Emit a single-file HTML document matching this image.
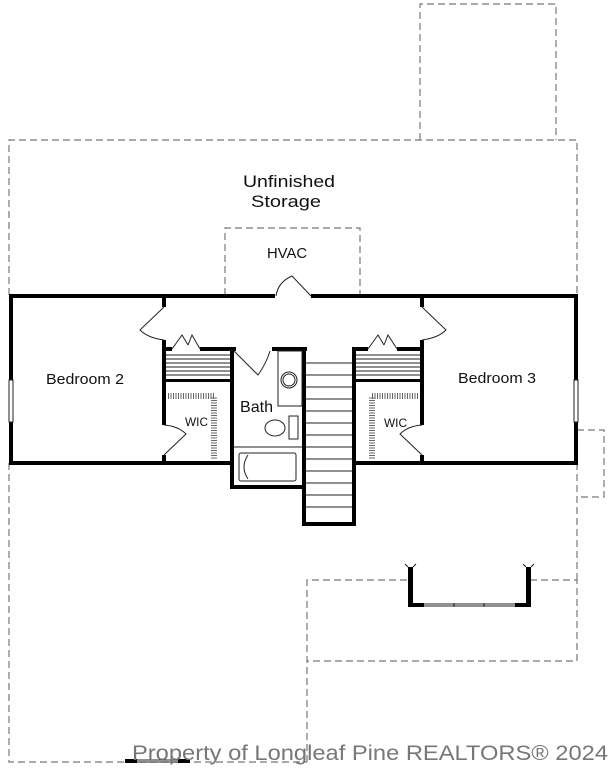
<!DOCTYPE html>
<html><head><meta charset="utf-8"><style>
html,body{margin:0;padding:0;background:#fff;}
svg{display:block;}
text{font-family:"Liberation Sans",sans-serif;fill:#111;}
</style></head><body>
<svg width="615" height="768" viewBox="0 0 615 768" xmlns="http://www.w3.org/2000/svg">
<g fill="none" stroke="#777" stroke-width="1.2" stroke-dasharray="7,4">
  <path d="M420,140 V4 H556 V140"/>
  <path d="M9,295 V140 H577 V295"/>
  <path d="M9,463 V762 H307"/>
  <path d="M577,463 V580"/>
  <path d="M577,430 H604 V497 H577"/>
  <path d="M225,295 V228 H360 V295"/>
  <path d="M307,762 V580 H409"/>
  <path d="M530,580 H577 V661 H307"/>
</g>
<g fill="#000" stroke="none">
  <rect x="9" y="294" width="266" height="4"/>
  <rect x="311" y="294" width="267" height="4"/>
  <rect x="9" y="294" width="4" height="171"/>
  <rect x="574" y="294" width="4" height="171"/>
  <rect x="9" y="461" width="225" height="4"/>
  <rect x="354" y="461" width="224" height="4"/>
  <rect x="162" y="294" width="4" height="13"/>
  <rect x="162" y="340" width="4" height="85"/>
  <rect x="162" y="455" width="4" height="8"/>
  <rect x="162" y="347" width="10" height="4"/>
  <rect x="200" y="347" width="36" height="4"/>
  <rect x="162" y="379" width="72" height="3"/>
  <rect x="230" y="347" width="4" height="142"/>
  <rect x="230" y="485" width="76" height="4"/>
  <rect x="272" y="347" width="35" height="4"/>
  <rect x="302" y="347" width="4" height="179"/>
  <rect x="352" y="347" width="4" height="179"/>
  <rect x="302" y="522" width="54" height="4"/>
  <rect x="420" y="294" width="4" height="13"/>
  <rect x="420" y="340" width="4" height="85"/>
  <rect x="420" y="455" width="4" height="8"/>
  <rect x="352" y="347" width="16" height="4"/>
  <rect x="397" y="347" width="27" height="4"/>
  <rect x="352" y="379" width="72" height="3"/>
  <rect x="408" y="567" width="5" height="40"/>
  <rect x="526" y="567" width="5" height="40"/>
  <rect x="408" y="603" width="16" height="4"/>
  <rect x="515" y="603" width="16" height="4"/>
  <rect x="125" y="759" width="12" height="4"/>
  <rect x="178" y="759" width="12" height="4"/>
</g>
<g fill="none" stroke="#222" stroke-width="1">
  <rect x="9" y="380" width="4" height="42" fill="#fff"/>
  <rect x="574" y="380" width="4" height="42" fill="#fff"/>
  <path d="M424,604 H515 M424,606 H515 M454,603 V607 M484,603 V607"/>
  <path d="M137,760 H178 M137,762 H178"/>
  <path d="M408,567 l-3,-3 M413,567 l3,-3 M526,567 l-3,-3 M531,567 l3,-3"/>
  <path d="M311,296 L292,276 Q278,282 276,296"/>
  <path d="M164,307 L140,330 Q148,338 164,340"/>
  <path d="M422,307 L446,330 Q438,338 422,340"/>
  <path d="M164,455 L186,434 Q178,426 164,425"/>
  <path d="M422,455 L400,434 Q408,426 422,425"/>
  <path d="M172,349 L182,335 L188,345 M200,349 L192,335 L188,345"/>
  <path d="M368,349 L378,335 L384,345 M397,349 L388,335 L384,345"/>
  <path d="M234,351 L258,375 Q266,364 270,351"/>
  <path d="M166,355 H230 M166,359 H230 M166,363 H230 M166,367 H230 M166,371 H230 M166,375 H230"/>
  <path d="M356,355 H420 M356,359 H420 M356,363 H420 M356,367 H420 M356,371 H420 M356,375 H420"/>
  <rect x="278" y="351" width="24" height="55"/>
  <circle cx="289" cy="380" r="8"/><circle cx="289" cy="380" r="6"/>
  <ellipse cx="275" cy="428" rx="10" ry="8"/>
  <rect x="289" y="416" width="9" height="23"/>
  <path d="M234,447 H302"/>
  <rect x="239" y="453" width="57" height="28" rx="2"/>
  <path d="M248,455 Q240,467 248,479"/>
  <path d="M306,363 H352 M306,375 H352 M306,387 H352 M306,399 H352 M306,411 H352 M306,423 H352 M306,435 H352 M306,447 H352 M306,459 H352 M306,471 H352 M306,483 H352 M306,495 H352 M306,507 H352"/>
</g>
<g stroke="#666" stroke-width="6" fill="none" stroke-dasharray="1,1.5">
  <path d="M168,396 H214 V460"/>
  <path d="M418,396 H372 V460"/>
</g>
<text x="243" y="187" font-size="17" textLength="92" lengthAdjust="spacingAndGlyphs">Unfinished</text>
<text x="251" y="207" font-size="17" textLength="70" lengthAdjust="spacingAndGlyphs">Storage</text>
<text x="267" y="258" font-size="15" textLength="40" lengthAdjust="spacingAndGlyphs">HVAC</text>
<text x="46" y="384" font-size="15" textLength="78" lengthAdjust="spacingAndGlyphs">Bedroom 2</text>
<text x="458" y="383" font-size="15" textLength="78" lengthAdjust="spacingAndGlyphs">Bedroom 3</text>
<text x="240" y="412" font-size="16" textLength="33" lengthAdjust="spacingAndGlyphs">Bath</text>
<text x="185" y="426" font-size="12" textLength="23" lengthAdjust="spacingAndGlyphs">WIC</text>
<text x="384" y="427" font-size="12" textLength="23" lengthAdjust="spacingAndGlyphs">WIC</text>
<text x="132" y="760" font-size="21" textLength="476" lengthAdjust="spacingAndGlyphs" style="fill:#777">Property of Longleaf Pine REALTORS® 2024</text>
</svg>
</body></html>
